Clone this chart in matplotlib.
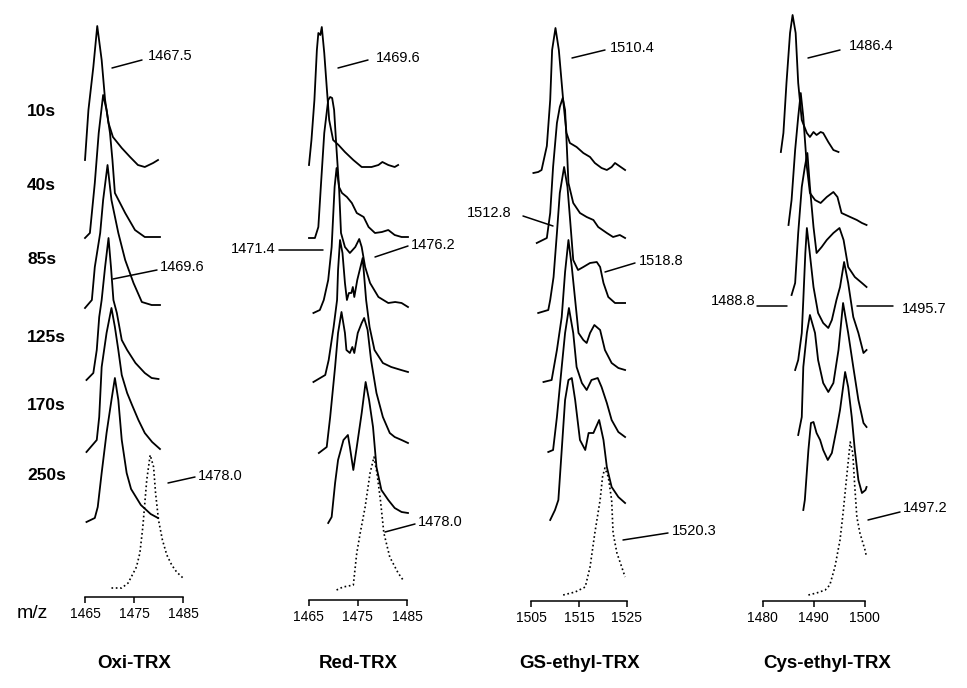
import matplotlib
matplotlib.use('Agg')
import matplotlib.pyplot as plt
import numpy as np

plt.rcParams['font.family'] = ['Liberation Sans', 'DejaVu Sans']

# ---------------- data ----------------
time_labels = ['10s', '40s', '85s', '125s', '170s', '250s']
panel_titles = ['Oxi-TRX', 'Red-TRX', 'GS-ethyl-TRX', 'Cys-ethyl-TRX']
panel_ticks = [[1465, 1475, 1485], [1465, 1475, 1485], [1505, 1515, 1525], [1480, 1490, 1500]]

# Oxi-TRX: six time-course spectra (solid) + reference (dotted)
oxi_mz = [
    [1465.0, 1465.7, 1466.7, 1467.5, 1468.4, 1469.1, 1469.8, 1470.7, 1472.5, 1474.2, 1475.8, 1477.2, 1478.9, 1479.9],
    [1465.0, 1466.0, 1467.0, 1467.8, 1468.7, 1469.4, 1470.1, 1470.6, 1471.1, 1473.2, 1475.2, 1477.2, 1478.9, 1480.3],
    [1465.0, 1466.4, 1467.0, 1468.1, 1468.7, 1469.6, 1470.1, 1470.4, 1471.8, 1473.2, 1474.9, 1476.6, 1478.6, 1480.3],
    [1465.3, 1466.7, 1467.4, 1467.9, 1468.4, 1469.1, 1469.8, 1470.3, 1470.8, 1471.5, 1472.5, 1473.6, 1475.3, 1477.2, 1478.6, 1480.0],
    [1465.3, 1467.4, 1467.9, 1468.4, 1469.4, 1470.4, 1471.1, 1471.8, 1472.5, 1473.6, 1474.6, 1475.9, 1477.2, 1478.7, 1480.3],
    [1465.3, 1467.0, 1467.6, 1468.4, 1469.4, 1470.4, 1471.1, 1471.8, 1472.5, 1473.5, 1474.4, 1475.4, 1476.4, 1478.4, 1479.9],
]
oxi_int = [
    [2, 52, 95, 136, 102, 62, 39, 25, 14, 5, -3, -5, -1, 2],
    [0, 5, 55, 105, 143, 128, 105, 78, 45, 25, 8, 1, 1, 1],
    [2, 10, 43, 77, 110, 145, 123, 110, 77, 50, 27, 8, 5, 5],
    [0, 7, 30, 63, 80, 113, 142, 113, 80, 67, 40, 30, 17, 7, 2, 1],
    [0, 12, 35, 85, 119, 144, 125, 102, 77, 59, 47, 32, 19, 10, 3],
    [0, 4, 15, 49, 89, 122, 144, 122, 82, 49, 33, 25, 17, 8, 4],
]
oxi_ref_mz = [1470.4, 1472.5, 1473.8, 1475.5, 1476.2, 1476.8, 1477.6, 1478.3, 1479.0, 1479.4, 1480.0, 1480.8, 1481.7, 1482.7, 1483.7, 1485.0]
oxi_ref_int = [4, 4, 9, 25, 39, 65, 112, 137, 125, 99, 72, 52, 37, 27, 20, 14]

# Red-TRX
red_mz = [
    [1465.1, 1465.6, 1466.2, 1466.7, 1467.0, 1467.4, 1467.7, 1468.2, 1468.7, 1469.2, 1470.0, 1471.1, 1472.4, 1474.1, 1475.8, 1477.8, 1479.2, 1480.0, 1481.2, 1482.5, 1483.2],
    [1465.1, 1466.3, 1467.0, 1467.5, 1468.2, 1469.0, 1469.4, 1469.8, 1470.2, 1470.7, 1471.2, 1471.8, 1472.8, 1473.8, 1474.8, 1476.2, 1477.2, 1478.5, 1479.9, 1481.2, 1482.5, 1483.9, 1485.2],
    [1466.0, 1467.3, 1468.1, 1469.0, 1469.7, 1470.3, 1470.7, 1471.2, 1471.6, 1472.4, 1473.4, 1474.5, 1475.3, 1475.8, 1476.5, 1477.5, 1479.2, 1481.2, 1482.6, 1483.9, 1485.2],
    [1466.0, 1468.4, 1469.1, 1470.1, 1470.8, 1471.0, 1471.4, 1471.9, 1472.4, 1472.8, 1473.2, 1473.7, 1474.0, 1474.3, 1474.9, 1476.0, 1476.7, 1477.4, 1478.4, 1480.1, 1481.8, 1483.8, 1485.2],
    [1467.1, 1468.7, 1469.4, 1470.4, 1471.0, 1471.7, 1472.4, 1472.7, 1473.4, 1473.9, 1474.3, 1475.0, 1475.8, 1476.3, 1477.0, 1477.7, 1478.8, 1480.1, 1481.5, 1482.5, 1483.9, 1485.2],
    [1469.0, 1469.7, 1470.4, 1471.0, 1472.1, 1473.0, 1473.4, 1474.1, 1474.8, 1475.8, 1476.6, 1477.3, 1478.1, 1478.8, 1479.8, 1481.2, 1482.5, 1483.9, 1485.2],
]
red_int = [
    [0, 25, 65, 115, 132, 130, 138, 112, 78, 45, 25, 20, 13, 5, -2, -2, 0, 3, 0, -2, 0],
    [0, 0, 11, 51, 105, 138, 141, 140, 128, 88, 51, 45, 41, 35, 25, 21, 11, 5, 6, 8, 3, 1, 1],
    [0, 3, 13, 33, 66, 126, 145, 126, 80, 66, 60, 66, 74, 66, 46, 30, 16, 10, 11, 10, 6],
    [0, 7, 22, 55, 82, 112, 142, 129, 99, 82, 89, 89, 95, 85, 102, 124, 82, 55, 32, 19, 15, 12, 10],
    [0, 6, 36, 86, 120, 141, 120, 103, 100, 106, 100, 120, 130, 135, 123, 93, 60, 36, 20, 16, 13, 10],
    [0, 6, 40, 63, 83, 88, 76, 53, 76, 110, 141, 123, 96, 56, 33, 23, 15, 11, 10],
]
red_ref_mz = [1470.7, 1472.0, 1473.1, 1474.1, 1474.8, 1475.5, 1476.5, 1477.5, 1478.3, 1478.9, 1479.6, 1480.3, 1481.5, 1483.2, 1484.2]
red_ref_int = [0, 3, 4, 5, 37, 57, 83, 117, 133, 117, 90, 57, 33, 17, 10]

# GS-ethyl-TRX
gs_mz = [
    [1505.5, 1506.5, 1507.2, 1508.3, 1509.0, 1509.4, 1510.1, 1510.8, 1511.7, 1512.4, 1513.1, 1514.5, 1515.9, 1517.3, 1518.3, 1519.7, 1520.8, 1521.8, 1522.5, 1524.6],
    [1506.2, 1508.3, 1509.0, 1509.6, 1510.4, 1511.0, 1511.6, 1512.1, 1512.4, 1512.8, 1513.8, 1515.2, 1516.6, 1518.0, 1519.0, 1520.8, 1522.1, 1523.5, 1524.6],
    [1506.5, 1508.6, 1509.0, 1509.7, 1510.4, 1511.0, 1511.9, 1512.6, 1513.1, 1513.8, 1514.8, 1515.9, 1517.3, 1518.7, 1519.4, 1520.1, 1521.1, 1522.5, 1524.6],
    [1507.6, 1509.3, 1510.4, 1511.4, 1512.1, 1512.8, 1513.5, 1514.2, 1514.9, 1515.9, 1516.6, 1517.3, 1518.2, 1519.4, 1520.4, 1521.8, 1523.2, 1524.6],
    [1508.6, 1509.6, 1510.4, 1511.4, 1512.1, 1512.9, 1513.8, 1514.5, 1515.6, 1516.6, 1517.6, 1518.9, 1519.7, 1520.8, 1521.8, 1523.2, 1524.6],
    [1509.0, 1510.0, 1510.7, 1511.4, 1512.1, 1512.8, 1513.5, 1514.2, 1515.2, 1516.3, 1517.0, 1518.0, 1519.2, 1520.1, 1520.8, 1521.8, 1523.2, 1524.6],
]
gs_int = [
    [-1, 0, 2, 26, 72, 122, 144, 122, 72, 39, 29, 25, 19, 15, 9, 4, 2, 5, 9, 2],
    [0, 5, 30, 76, 120, 136, 145, 133, 103, 60, 40, 30, 26, 23, 16, 10, 6, 8, 5],
    [0, 3, 13, 36, 80, 120, 146, 126, 96, 53, 43, 46, 50, 51, 46, 30, 16, 10, 10],
    [0, 2, 32, 65, 110, 142, 115, 82, 49, 42, 39, 49, 57, 52, 32, 19, 14, 12],
    [0, 2, 35, 85, 119, 144, 119, 85, 69, 62, 72, 74, 65, 49, 32, 20, 15],
    [0, 10, 20, 70, 120, 140, 142, 120, 80, 70, 87, 87, 100, 80, 53, 33, 23, 17],
]
gs_ref_mz = [1511.7, 1514.2, 1516.3, 1517.3, 1518.3, 1519.4, 1519.9, 1520.4, 1521.1, 1521.8, 1522.1, 1522.9, 1523.9, 1524.6]
gs_ref_int = [0, 3, 8, 28, 62, 95, 118, 127, 118, 95, 62, 42, 28, 18]

# Cys-ethyl-TRX
cys_mz = [
    [1483.6, 1484.1, 1484.7, 1485.4, 1485.9, 1486.5, 1487.0, 1487.7, 1488.7, 1489.3, 1490.0, 1490.6, 1491.4, 1491.9, 1492.9, 1493.9, 1494.9],
    [1485.1, 1485.7, 1486.4, 1487.0, 1487.5, 1488.0, 1488.7, 1489.3, 1490.3, 1491.4, 1492.6, 1493.9, 1494.7, 1495.5, 1497.2, 1498.5, 1499.5, 1500.4],
    [1485.7, 1486.4, 1487.0, 1487.7, 1488.3, 1488.8, 1489.3, 1490.0, 1490.6, 1491.6, 1492.6, 1493.9, 1495.1, 1495.9, 1496.8, 1498.1, 1499.5, 1500.4],
    [1486.4, 1487.0, 1487.7, 1488.0, 1488.4, 1488.7, 1489.2, 1490.0, 1490.9, 1491.9, 1492.9, 1493.6, 1494.5, 1495.2, 1496.0, 1496.8, 1497.8, 1498.8, 1499.8, 1500.4],
    [1487.0, 1487.7, 1488.0, 1488.7, 1489.3, 1490.3, 1490.9, 1491.9, 1492.9, 1493.9, 1494.9, 1495.8, 1496.8, 1497.8, 1498.8, 1499.8, 1500.4],
    [1488.0, 1488.3, 1489.0, 1489.5, 1490.0, 1490.6, 1491.3, 1491.9, 1492.8, 1493.6, 1494.6, 1495.2, 1496.2, 1496.8, 1497.5, 1498.1, 1498.8, 1499.5, 1500.2, 1500.4],
]
cys_int = [
    [0, 19, 69, 119, 137, 119, 69, 32, 19, 15, 20, 17, 20, 19, 10, 2, 0],
    [0, 25, 75, 108, 132, 108, 58, 32, 25, 22, 28, 33, 28, 12, 8, 5, 2, 0],
    [0, 12, 62, 108, 128, 142, 108, 68, 42, 48, 55, 62, 67, 55, 28, 18, 12, 8],
    [0, 10, 37, 70, 117, 142, 120, 83, 57, 47, 42, 50, 70, 83, 108, 87, 53, 37, 17, 20],
    [0, 18, 68, 102, 120, 102, 75, 52, 43, 52, 85, 132, 102, 68, 35, 12, 8],
    [0, 10, 60, 87, 88, 77, 70, 60, 50, 57, 83, 100, 138, 123, 93, 60, 30, 17, 20, 23],
]
cys_ref_mz = [1489.0, 1490.6, 1492.3, 1493.2, 1494.2, 1495.2, 1495.8, 1496.5, 1497.2, 1497.7, 1498.1, 1498.5, 1499.1, 1500.1, 1500.4]
cys_ref_int = [0, 2, 5, 10, 28, 55, 82, 118, 153, 142, 108, 78, 62, 45, 38]

# peak annotations (text, line start px, line end px, text anchor px, alignment)
annotations = [
    [('1467.5', (112, 68), (142, 60), (148, 56), 'left'),
     ('1469.6', (113, 279), (157, 270), (160, 267), 'left'),
     ('1478.0', (168, 483), (195, 477), (198, 476), 'left')],
    [('1469.6', (338, 68), (368, 60), (376, 58), 'left'),
     ('1471.4', (323, 250), (279, 250), (275, 249), 'right'),
     ('1476.2', (375, 257), (408, 246), (411, 245), 'left'),
     ('1478.0', (385, 532), (415, 524), (418, 522), 'left')],
    [('1510.4', (572, 58), (605, 50), (610, 48), 'left'),
     ('1512.8', (553, 226), (523, 216), (511, 213), 'right'),
     ('1518.8', (605, 272), (635, 263), (639, 261), 'left'),
     ('1520.3', (623, 540), (668, 533), (672, 531), 'left')],
    [('1486.4', (808, 58), (840, 50), (849, 46), 'left'),
     ('1488.8', (787, 306), (757, 306), (756, 301), 'right'),
     ('1495.7', (857, 306), (893, 306), (902, 309), 'left'),
     ('1497.2', (868, 520), (900, 512), (903, 508), 'left')],
]

# ---------------- layout ----------------
W, H = 967, 688
panel_px = [(85, 183), (308.5, 407), (531, 627), (762.5, 864.5)]
baselines = [
    [162, 238, 310, 380, 452, 522, 592],
    [165, 238, 313, 382, 453, 523, 590],
    [172, 243, 313, 382, 452, 520, 595],
    [152, 225, 295, 370, 435, 510, 595],
]
axis_y = [597, 600, 601, 601]
time_label_y = [112, 185, 260, 338, 406, 476]
title_x = [134, 358, 580, 827]

panels = [
    (oxi_mz, oxi_int, oxi_ref_mz, oxi_ref_int),
    (red_mz, red_int, red_ref_mz, red_ref_int),
    (gs_mz, gs_int, gs_ref_mz, gs_ref_int),
    (cys_mz, cys_int, cys_ref_mz, cys_ref_int),
]

fig = plt.figure(figsize=(W / 100, H / 100), dpi=100)
fig.patch.set_facecolor('white')

overlay = fig.add_axes([0, 0, 1, 1])
overlay.set_xlim(0, W)
overlay.set_ylim(H, 0)
overlay.axis('off')

for i, (mzs, ints, rmz, rint) in enumerate(panels):
    ticks = panel_ticks[i]
    p0, p1 = panel_px[i]
    s = (p1 - p0) / (ticks[-1] - ticks[0])
    ax = fig.add_axes([0, 0, 1, 1], facecolor='none')
    ax.set_xlim(ticks[0] - p0 / s, ticks[0] + (W - p0) / s)
    ax.set_ylim(H, 0)
    base = baselines[i]
    for k in range(len(mzs)):
        ax.plot(mzs[k], base[k] - np.array(ints[k]), color='black', lw=1.3,
                solid_joinstyle='round')
    ax.plot(rmz, base[6] - np.array(rint), color='black', lw=1.2,
            linestyle=(0, (1.0, 1.6)))
    for sp in ['top', 'left', 'right']:
        ax.spines[sp].set_visible(False)
    ax.spines['bottom'].set_position(('data', axis_y[i]))
    ax.spines['bottom'].set_bounds(ticks[0], ticks[-1])
    ax.spines['bottom'].set_linewidth(1.1)
    ax.set_xticks(ticks)
    ax.set_xticklabels([str(t) for t in ticks])
    ax.set_yticks([])
    ax.tick_params(axis='x', direction='out', length=4, width=1.1,
                   labelsize=10, pad=3)

    for txt, a, b, tpos, ha in annotations[i]:
        overlay.annotate('', xy=b, xytext=a,
                         arrowprops=dict(arrowstyle='-', lw=1.1, color='black',
                                         shrinkA=0, shrinkB=0))
        overlay.text(tpos[0], tpos[1], txt, ha=ha, va='center', fontsize=10.5)

    overlay.text(title_x[i], 664, panel_titles[i], ha='center', va='center',
                 fontsize=13.5, fontweight='bold')

for lab, y in zip(time_labels, time_label_y):
    overlay.text(27, y, lab, ha='left', va='center', fontsize=12.5, fontweight='bold')

overlay.text(17, 614, 'm/z', ha='left', va='center', fontsize=14)

fig.savefig('out.png', dpi=100, facecolor='white')
